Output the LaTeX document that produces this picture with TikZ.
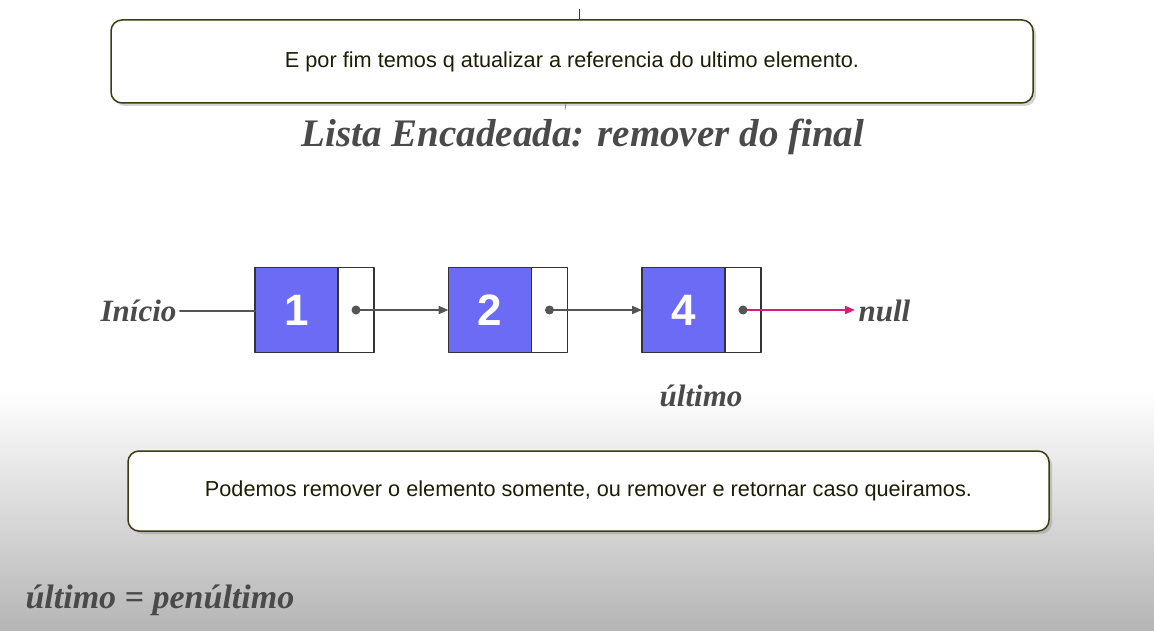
\documentclass[tikz,border=0pt]{standalone}
\usepackage{fontspec}
\setmainfont{Liberation Serif}
\newfontfamily\boxfont{Liberation Sans}
\usetikzlibrary{arrows.meta,positioning,shadows}
\definecolor{olivedark}{HTML}{3B3B14}
\definecolor{textdark}{HTML}{1E1E08}
\definecolor{labelgray}{HTML}{4A4A4A}
\definecolor{linegray}{HTML}{555555}
\definecolor{cellblue}{HTML}{6B6BF5}
\definecolor{nullpink}{HTML}{E0187A}
\definecolor{bottomgray}{HTML}{B5B5B5}
\tikzset{every picture/.style={line cap=round, line join=round}}
\tikzset{notebox/.style={draw=olivedark, fill=white, rectangle, rounded corners=11pt,
  line width=1.5pt, text=textdark, font=\boxfont\fontsize{21.7}{26}\selectfont,
  drop shadow={opacity=0.35, shadow xshift=3pt, shadow yshift=-3pt}}}
\tikzset{cell/.style={draw=black!80, fill=cellblue, rectangle, minimum width=83pt,
  minimum height=85pt, outer sep=0pt, line width=1.4pt, text=white,
  font=\boxfont\bfseries\fontsize{44}{48}\selectfont}}
\tikzset{ptr/.style={draw=black!80, fill=white, rectangle, minimum width=36pt,
  minimum height=85pt, outer sep=0pt, line width=1.4pt}}
\tikzset{lbl/.style={text=labelgray, font=\bfseries\itshape\fontsize{31}{36}\selectfont}}
\tikzset{arrow/.style={-{Triangle[length=10pt,width=8pt]}, draw=linegray, line width=2pt}}
\tikzset{line/.style={draw=linegray, line width=2pt}}

\begin{document}
\begin{tikzpicture}[x=1pt,y=-1pt]
  \useasboundingbox (0,0) rectangle (1154,631);
  % background
  \shade[top color=white, bottom color=bottomgray] (0,390) rectangle (1154,631);

  % top note
  \draw[olivedark, thin] (579,9) -- (579,20);
  \draw[olivedark, thin] (566,103) -- (565,110);
  \node[notebox, minimum width=922pt, minimum height=83pt] (topnote) at (572,61.5)
    {E por fim temos q atualizar a referencia do ultimo elemento.};

  % title
  \node[lbl, font=\bfseries\itshape\fontsize{39}{44}\selectfont] (title) at (583,137)
    {Lista Encadeada: remover do final};

  % list
  \node[lbl, anchor=east] (ini) at (180,311) {Início};
  \node[cell] (n1) at (296.5,310) {1};
  \node[ptr, right=0pt of n1] (p1) {};
  \node[cell] (n2) at (490,310) {2};
  \node[ptr, right=0pt of n2] (p2) {};
  \node[cell] (n4) at (683.5,310) {4};
  \node[ptr, right=0pt of n4] (p4) {};
  \node[lbl, anchor=west] (nl) at (855,311) {null};
  \node[lbl] (ult) at (701,396) {último};

  \draw[line] (ini.east) -- (ini.east -| n1.west);
  \draw[arrow] (p1.center) -- (n2.west);
  \draw[arrow] (p2.center) -- (n4.west);
  \draw[arrow, draw=nullpink] (p4.center) -- (p4.center -| nl.west);
  \foreach \p in {p1,p2,p4}
    \fill[linegray] (\p.center) circle (4.5);

  % bottom note
  \node[notebox, minimum width=921pt, minimum height=80pt] (botnote) at (588.5,491)
    {Podemos remover o elemento somente, ou remover e retornar caso queiramos.};

  % assignment
  \node[lbl, anchor=west, font=\bfseries\itshape\fontsize{34}{40}\selectfont] (assign) at (22,600)
    {último = penúltimo};
\end{tikzpicture}
\end{document}
